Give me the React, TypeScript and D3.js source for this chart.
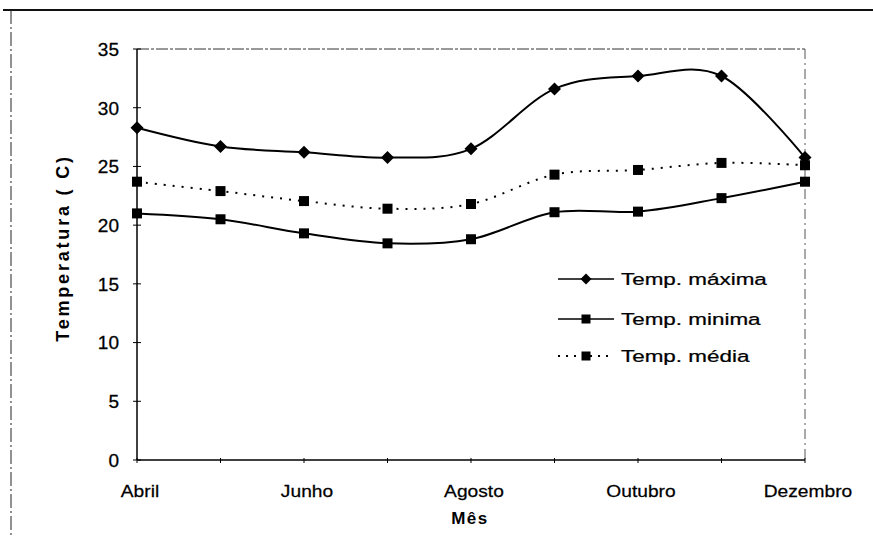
import React from 'react';
import * as d3 from 'd3';

const months = ['Abril', 'Maio', 'Junho', 'Julho', 'Agosto', 'Setembro', 'Outubro', 'Novembro', 'Dezembro'];
const tempMax = [28.3, 26.7, 26.2, 25.75, 26.5, 31.6, 32.7, 32.7, 25.75];
const tempMin = [21.0, 20.5, 19.3, 18.45, 18.8, 21.1, 21.15, 22.3, 23.7];
const tempMed = [23.7, 22.9, 22.05, 21.4, 21.8, 24.3, 24.7, 25.3, 25.1];
const yTicks = [0, 5, 10, 15, 20, 25, 30, 35];
const xTickLabels = ['Abril', 'Junho', 'Agosto', 'Outubro', 'Dezembro'];
const legendLabels = ['Temp. máxima', 'Temp. minima', 'Temp. média'];

const W = 873;
const H = 538;
const FONT = '"Liberation Sans", Arial, sans-serif';

export default function App() {
  const x = d3.scalePoint<string>().domain(months).range([137, 805]);
  const y = d3.scaleLinear().domain([0, 35]).range([460, 49]);

  const line = d3
    .line<number>()
    .x((_, i) => x(months[i]) as number)
    .y((d) => y(d))
    .curve(d3.curveCatmullRom.alpha(0));

  const diamond = (cx: number, cy: number, r: number) =>
    `M${cx},${cy - r}L${cx + r},${cy}L${cx},${cy + r}L${cx - r},${cy}Z`;

  const legendY = [279, 319, 356];
  const lx0 = 558;
  const lx1 = 614;
  const lm = 586;

  return (
    <svg width={W} height={H} style={{ position: 'absolute', left: 0, top: 0, background: '#fff' }}>
      {/* outer border */}
      <line x1={3} x2={W} y1={10} y2={10} stroke="#111" strokeWidth={2} />
      <line x1={11} x2={11} y1={10} y2={H} stroke="#222" strokeWidth={1} strokeDasharray="14 3 2 3" />

      {/* plot area border */}
      <line x1={137} x2={805} y1={y(35)} y2={y(35)} stroke="#333" strokeWidth={1} strokeDasharray="12 2 3 2" />
      <line x1={805} x2={805} y1={y(35)} y2={y(0)} stroke="#555" strokeWidth={1} strokeDasharray="10 4 2 4" />

      {/* axes */}
      <line x1={137} x2={137} y1={y(35)} y2={y(0)} stroke="#000" strokeWidth={1.5} />
      <line x1={137} x2={805} y1={y(0)} y2={y(0)} stroke="#000" strokeWidth={1.3} />
      {yTicks.map((t) => (
        <g key={t}>
          <line x1={133} x2={141} y1={y(t)} y2={y(t)} stroke="#000" strokeWidth={1} />
          <text x={119} y={y(t)} dy="0.36em" textAnchor="end" fontFamily={FONT} fontSize={19} fill="#000" stroke="#000" strokeWidth={0.3}>
            {t}
          </text>
        </g>
      ))}
      {months.map((m) => (
        <line key={m} x1={x(m)} x2={x(m)} y1={y(0) - 2} y2={y(0) + 3} stroke="#000" strokeWidth={1} />
      ))}
      {xTickLabels.map((m) => (
        <text
          key={m}
          transform={`translate(${(x(m) as number) + 3},${497}) scale(1.13,1)`}
          textAnchor="middle"
          fontFamily={FONT}
          fontSize={17}
          fill="#000"
          stroke="#000"
          strokeWidth={0.25}
        >
          {m}
        </text>
      ))}
      <text x={470} y={524} textAnchor="middle" fontFamily={FONT} fontSize={17} fontWeight="bold" letterSpacing={1.5} fill="#000">
        Mês
      </text>
      <text
        transform={`translate(69,248) rotate(-90)`}
        textAnchor="middle"
        fontFamily={FONT}
        fontSize={18}
        fontWeight="bold"
        letterSpacing={2.8}
        fill="#000"
      >
        Temperatura ( C)
      </text>

      {/* series */}
      <path d={line(tempMax) || ''} fill="none" stroke="#000" strokeWidth={2} />
      <path d={line(tempMin) || ''} fill="none" stroke="#000" strokeWidth={2} />
      <path d={line(tempMed) || ''} fill="none" stroke="#000" strokeWidth={2} strokeDasharray="2 7" />
      {tempMax.map((v, i) => (
        <path key={'mx' + i} d={diamond(x(months[i]) as number, y(v), 6.5)} fill="#000" />
      ))}
      {tempMin.map((v, i) => (
        <rect key={'mn' + i} x={(x(months[i]) as number) - 5} y={y(v) - 5} width={10} height={10} fill="#000" />
      ))}
      {tempMed.map((v, i) => (
        <rect key={'md' + i} x={(x(months[i]) as number) - 5} y={y(v) - 5} width={10} height={10} fill="#000" />
      ))}

      {/* legend */}
      {legendLabels.map((lab, i) => (
        <g key={lab}>
          <line
            x1={lx0}
            x2={lx1}
            y1={legendY[i]}
            y2={legendY[i]}
            stroke="#000"
            strokeWidth={i === 2 ? 2 : 1.5}
            strokeDasharray={i === 2 ? '2 6' : undefined}
          />
          {i === 0 ? (
            <path d={diamond(lm, legendY[i], 5.5)} fill="#000" />
          ) : (
            <rect x={lm - 4.5} y={legendY[i] - 4.5} width={9} height={9} fill="#000" />
          )}
          <text
            transform={`translate(${621},${legendY[i] + 6}) scale(1.32,1)`}
            fontFamily={FONT}
            fontSize={17}
            fill="#000"
            stroke="#000"
            strokeWidth={0.25}
          >
            {lab}
          </text>
        </g>
      ))}
    </svg>
  );
}
